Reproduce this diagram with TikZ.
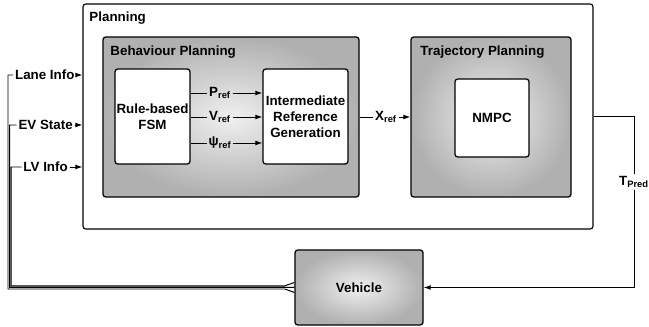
\documentclass[tikz,border=0pt]{standalone}
\usepackage{fontspec}
\setmainfont{Liberation Sans}
\usetikzlibrary{arrows.meta}

\tikzset{
    outerbox/.style={draw, line width=0.8pt, rounded corners=2pt, inner sep=0pt},
    greybox/.style={draw, line width=0.9pt, rounded corners=2pt, inner sep=0pt,
        inner color=gray!12, outer color=gray!62},
    whitebox/.style={draw, line width=0.9pt, rounded corners=2pt, inner sep=0pt,
        fill=white, align=center},
    sig/.style={inner sep=1pt},
}

\begin{document}
\begin{tikzpicture}[>={Latex[length=5pt,width=3.5pt]}, line width=0.7pt,
        font=\fontsize{9.5}{11.4}\selectfont\bfseries]

        \useasboundingbox (0,0) rectangle (16.225,8.175);

        % boxes
        \node[outerbox, minimum width=12.75cm, minimum height=5.625cm]
            (plan) at (8.45,5.2625) {};
        \node[greybox, minimum width=6.4cm, minimum height=4cm]
            (behav) at (5.775,5.25) {};
        \node[greybox, minimum width=4cm, minimum height=4cm]
            (traj) at (12.275,5.25) {};
        \node[whitebox, minimum width=1.875cm, minimum height=2.375cm]
            (fsm) at (3.8125,5.2625) {Rule-based\\FSM};
        \node[whitebox, minimum width=2.125cm, minimum height=2.375cm]
            (irg) at (7.6375,5.2625) {Intermediate\\Reference\\Generation};
        \node[whitebox, minimum width=1.85cm, minimum height=1.95cm]
            (nmpc) at (12.3,5.225) {NMPC};
        \node[greybox, minimum width=3.2cm, minimum height=1.875cm]
            (veh) at (8.975,0.9875) {Vehicle};

        \node[anchor=west, inner sep=0pt] (plantitle) at (2.225,7.72) {Planning};
        \node[anchor=west, inner sep=0pt] (behavtitle) at (2.75,6.87) {Behaviour Planning};
        \node[anchor=west, inner sep=0pt] (trajtitle) at (10.5,6.87) {Trajectory Planning};

        % behaviour signals
        \node[sig] (pref) at (5.5,5.85) {P\textsubscript{ref}};
        \node[sig] (vref) at (5.5,5.25) {V\textsubscript{ref}};
        \node[sig] (psiref) at (5.5,4.6) {ψ\textsubscript{ref}};

        \draw (fsm.east |- pref) -- (pref);
        \draw[->] (pref) -- (irg.west |- pref);
        \draw (fsm.east |- vref) -- (vref);
        \draw[->] (vref) -- (irg.west |- vref);
        \draw (fsm.east |- psiref) -- (psiref);
        \draw[->] (psiref) -- (irg.west |- psiref);

        \node[sig] (xref) at (9.65,5.25) {X\textsubscript{ref}};
        \draw (behav.east |- xref) -- (xref);
        \draw[->] (xref) -- (traj.west |- xref);

        % feedback to vehicle
        \node[sig, fill=white] (tpred) at (15.85,3.625) {T\textsubscript{Pred}};
        \draw (plan.east) -| (tpred);
        \draw[->] (tpred) |- (veh.east);

        % vehicle outputs
        \node[sig] (lane) at (1.12,6.3) {Lane Info};
        \node[sig] (evstate) at (1.14,5.05) {EV State};
        \node[sig] (lvinfo) at (1.14,4.0) {LV Info};

        \draw
            ([yshift=-1.25mm]veh.west) -- (7.125,0.95) -- (0.2,0.95) |- (lane)
            (veh.west) -- (7.125,0.99) -- (0.24,0.99) |- (evstate)
            ([yshift=1.25mm]veh.west) -- (7.125,1.03) -- (0.28,1.03) |- (lvinfo);

        \draw[->]
            (lane) -- (plan.west |- lane);
        \draw[->]
            (evstate) -- (plan.west |- evstate);
        \draw[->]
            (lvinfo) -- (plan.west |- lvinfo);

\end{tikzpicture}
\end{document}
